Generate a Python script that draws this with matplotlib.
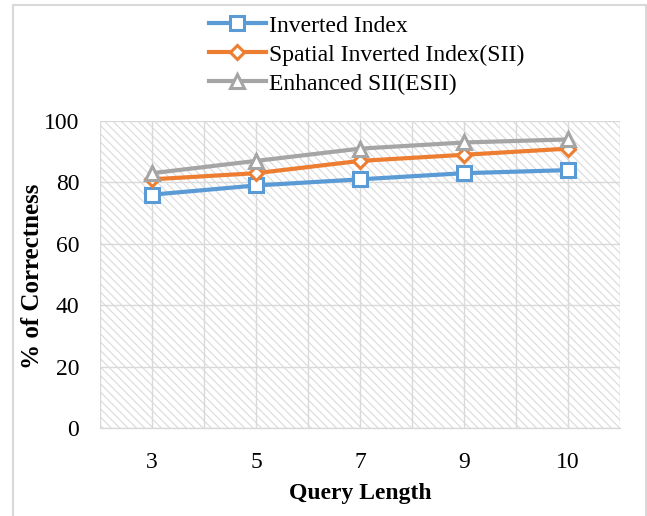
import numpy as np
import matplotlib
matplotlib.use("Agg")
import matplotlib.pyplot as plt
from matplotlib.patches import Rectangle

categories = ["3", "5", "7", "9", "10"]
inverted_index = [76, 79, 81, 83, 84]
spatial_inverted_index = [81, 83, 87, 89, 91]
enhanced_sii = [83, 87, 91, 93, 94]
series_labels = ["Inverted Index", "Spatial Inverted Index(SII)", "Enhanced SII(ESII)"]
y_ticks = [0, 20, 40, 60, 80, 100]

plt.rcParams['font.family'] = ['Liberation Serif', 'DejaVu Serif']
plt.rcParams['hatch.color'] = '#dadada'
plt.rcParams['hatch.linewidth'] = 0.8

W, H = 647, 516
FS = 17
fig = plt.figure(figsize=(W / 100, H / 100), dpi=100)
ax = fig.add_axes([100 / W, 1 - 428 / H, 520 / W, 307 / H])

# hatched plot background
ax.add_patch(Rectangle((0, 0), 1, 1, transform=ax.transAxes, facecolor='white',
                       edgecolor='#dadada', hatch='\\\\\\\\', lw=0, zorder=0))

x = np.arange(len(categories))
colors = ['#5B9BD5', '#ED7D31', '#A5A5A5']
markers = ['s', 'D', '^']
msizes = [10, 7.5, 10]
for vals, c, m, ms, lab in zip([inverted_index, spatial_inverted_index, enhanced_sii],
                               colors, markers, msizes, series_labels):
    ax.plot(x, vals, color=c, lw=3, marker=m, markersize=ms, markerfacecolor='white',
            markeredgecolor=c, markeredgewidth=2.2, label=lab, zorder=3)

ax.set_xlim(-0.5, len(categories) - 0.5)
ax.set_ylim(0, 100)
ax.set_xticks(x)
ax.set_xticklabels(categories)
ax.set_xticks(np.arange(-0.5, len(categories), 1), minor=True)
ax.set_yticks(y_ticks)
ax.tick_params(axis='both', which='both', length=0, labelsize=FS)
ax.tick_params(axis='y', pad=15)
ax.tick_params(axis='x', pad=17)
ax.set_axisbelow(True)
ax.grid(axis='y', color='#d9d9d9', lw=1.0)
ax.grid(axis='x', which='both', color='#d9d9d9', lw=1.0)
for s in ['top', 'right', 'left']:
    ax.spines[s].set_visible(False)
ax.spines['bottom'].set_color('#d9d9d9')
ax.spines['bottom'].set_linewidth(1.0)

ax.set_xlabel("Query Length", fontsize=FS, fontweight='bold')
ax.xaxis.set_label_coords((360 - 100) / 520, -(493 - 428) / 307)
ax.xaxis.label.set_va('center')
ax.set_ylabel("% of Correctness", fontsize=18, fontweight='bold')
ax.yaxis.set_label_coords(-(100 - 33) / 520, (428 - 276) / 307)
ax.yaxis.label.set_va('center')

fig.legend(loc='upper left', bbox_to_anchor=(209 / W, 1 - 15 / H), frameon=False,
           fontsize=FS, handlelength=2.4, handletextpad=0.13, labelspacing=0.32,
           borderaxespad=0, borderpad=0)

# figure border
fig.add_artist(Rectangle((13 / W, -0.05), (646 - 13) / W, 1.05 - 5 / H,
                         transform=fig.transFigure, fill=False, edgecolor='#d9d9d9', lw=1.5))

fig.savefig("out.png", dpi=100)
